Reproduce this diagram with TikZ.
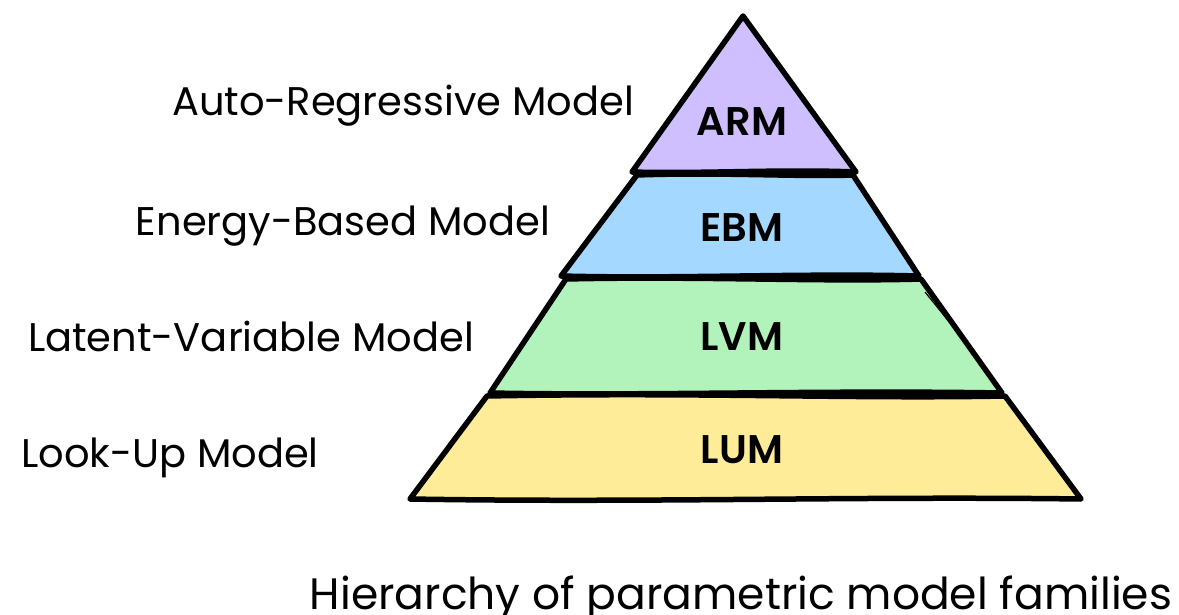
\documentclass[tikz,border=0pt]{standalone}
\usepackage{fontspec}
\setmainfont{Poppins}
\newfontfamily\labelbold{Poppins SemiBold}
\definecolor{armfill}{HTML}{D0BFFF}
\definecolor{ebmfill}{HTML}{A5D8FF}
\definecolor{lvmfill}{HTML}{B2F2BB}
\definecolor{lumfill}{HTML}{FFEC99}
\tikzset{
  band/.style={draw=black, line width=5.5pt, line join=round, line cap=round},
  side/.style={font=\fontsize{40}{48}\selectfont, inner sep=0pt, anchor=base},
  tag/.style={font=\labelbold\fontsize{40}{48}\selectfont, inner sep=0pt, anchor=base},
}
\begin{document}
\begin{tikzpicture}[x=1pt, y=-1pt]
\useasboundingbox (0,0) rectangle (1179,615);
% pyramid bands, bottom to top
\path[band, fill=lumfill] (487,396) .. controls (700,392) and (850,399) .. (1005,396)
  -- (1081,499) .. controls (850,496) and (650,503) .. (410,499) -- cycle;
\path[band, fill=lvmfill] (566,279) .. controls (700,276) and (820,282) .. (921,279)
  -- (1002,393) .. controls (820,390) and (650,396) .. (490,393) -- cycle;
\path[band, fill=ebmfill] (637,175) .. controls (720,172) and (800,177) .. (853,175)
  -- (919,276) .. controls (800,273) and (680,279) .. (561,276) -- cycle;
\path[band, fill=armfill] (743,16) -- (856,172) .. controls (780,169) and (700,174) .. (632,172) -- cycle;
% faint second stroke on the right edge of the green band
\draw[line width=1.2pt] (925,292) -- (980,360);
% band labels
\node[tag] (arm) at (742,136) {ARM};
\node[tag] (ebm) at (742,241) {EBM};
\node[tag] (lvm) at (742,350) {LVM};
\node[tag] (lum) at (742,463) {LUM};
% names on the left
\node[side] (armname) at (403,116) {Auto-Regressive Model};
\node[side] (ebmname) at (343,235) {Energy-Based Model};
\node[side] (lvmname) at (251,351) {Latent-Variable Model};
\node[side] (lumname) at (170,467) {Look-Up Model};
% caption
\node[side, font=\fontsize{44}{52}\selectfont] (caption) at (741,609) {Hierarchy of parametric model families};
\end{tikzpicture}
\end{document}
